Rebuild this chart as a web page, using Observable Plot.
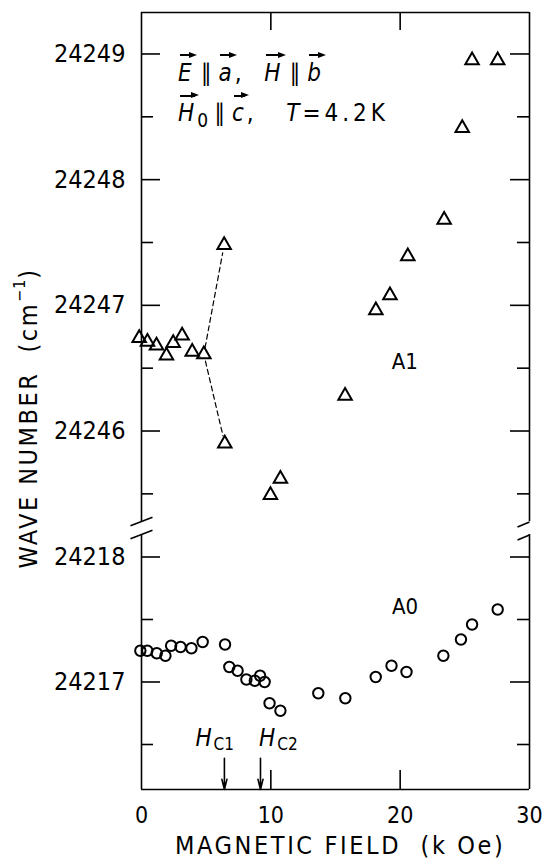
<!DOCTYPE html>
<html>
<head>
<meta charset="utf-8">
<script src="https://cdn.jsdelivr.net/npm/d3@7"></script>
<script src="https://cdn.jsdelivr.net/npm/@observablehq/plot@0.6"></script>
<style>
  body { margin: 0; background: #fff; }
  #wrap { position: relative; width: 547px; height: 860px; font-family: "DejaVu Sans Condensed", "DejaVu Sans", sans-serif; color: #000; overflow: hidden; }
  #chart { position: absolute; left: 0; top: 0; }
  .ann { position: absolute; white-space: pre; font-size: 24px; line-height: 1; letter-spacing: 3px; }
  .v { position: relative; display: inline-block; font-style: italic; line-height: 1; }
  .v::before { content: ""; position: absolute; left: 2px; right: 2px; top: -6.5px; border-top: 2px solid #000; }
  .v::after { content: ""; position: absolute; right: -2px; top: -9px; width: 0; height: 0; border-left: 8px solid #000; border-top: 3.5px solid transparent; border-bottom: 3.5px solid transparent; }
  .par { display: inline-block; font-size: 24px; margin: 0 7px 0 6px; letter-spacing: 0; }
  .sub0 { font-size: 19px; position: relative; top: 6px; letter-spacing: 0; }
  #ytitle { position: absolute; left: 27.5px; top: 417.5px; transform: translate(-50%, -50%) rotate(-90deg); white-space: pre; font-size: 25px; letter-spacing: 2.5px; line-height: 1; }
  #ytitle sup { font-size: 16px; letter-spacing: 1px; position: relative; top: -3px; }
  #xtitle { position: absolute; left: 175px; top: 833px; white-space: pre; font-size: 25px; letter-spacing: 2.6px; line-height: 1; }
</style>
</head>
<body>
<div id="wrap">
  <div id="chart"></div>
  <div class="ann" style="left:178px; top:60.7px;"><span class="v">E</span><span class="par">∥</span><span class="v">a</span>,  <span class="v">H</span><span class="par">∥</span><span class="v">b</span></div>
  <div class="ann" style="left:178px; top:101.4px;"><span class="v">H</span><span class="sub0">0</span><span class="par">∥</span><span class="v">c</span>,   <i>T</i><span style="letter-spacing:4px">=4.2K</span></div>
  <div id="ytitle">WAVE NUMBER  (cm<sup>−1</sup>)</div>
  <div id="xtitle">MAGNETIC FIELD  (k Oe)</div>
</div>
<script>
// ---- Data ----
// A1 line (triangles)
const a1Field = [-0.18, 0.46, 1.16, 1.93, 2.45, 3.14, 3.92, 4.82, 6.39, 6.44, 9.97, 10.74, 15.74, 18.12, 19.21, 20.59, 23.40, 24.80, 25.56, 27.54];
const a1Wave  = [24246.74, 24246.71, 24246.68, 24246.60, 24246.70, 24246.76, 24246.63, 24246.61, 24247.48, 24245.90, 24245.49, 24245.62, 24246.28, 24246.96, 24247.08, 24247.39, 24247.68, 24248.41, 24248.95, 24248.95];
// dashed connections (index pairs into A1)
const a1DashFrom = [7, 7];
const a1DashTo   = [8, 9];
// A0 line (circles)
const a0Field = [-0.09, 0.45, 1.18, 1.85, 2.29, 3.02, 3.86, 4.73, 6.46, 6.79, 7.43, 8.11, 8.76, 9.17, 9.52, 9.90, 10.74, 13.67, 15.76, 18.11, 19.33, 20.49, 23.34, 24.70, 25.56, 27.54];
const a0Wave  = [24217.25, 24217.25, 24217.23, 24217.21, 24217.29, 24217.28, 24217.27, 24217.32, 24217.30, 24217.12, 24217.09, 24217.02, 24217.01, 24217.05, 24217.00, 24216.83, 24216.77, 24216.91, 24216.87, 24217.04, 24217.13, 24217.08, 24217.21, 24217.34, 24217.46, 24217.58];
// series labels
const seriesNames = ["A1", "A0"];
const seriesLabelField = [20.36, 20.37];
const seriesLabelWave = [24246.55, 24217.60];
// critical fields
const hcNames = ["C1", "C2"];
const hcField = [6.41, 9.20];
const hcLabelField = [4.80, 9.72];
const hcLabelWave = 24216.553;
const hcArrowTop = 24216.39;
// axes
const xTickLabels = [0, 10, 20, 30];
const xInnerTicks = [10, 20];
const yMajorTicks = [24217, 24218, 24246, 24247, 24248, 24249];
const yLabelTicks = [24217, 24218, 24246, 24247, 24248, 24249];
const yMinorTicks = [24216.5, 24217.5, 24245.5, 24246.5, 24247.5, 24248.5];
// broken y axis: lower and upper segments
const yLowMin = 24216.14, yLowMax = 24218.18, yUpMin = 24245.28, yUpMax = 24249.33;
const xMin = 0, xMax = 30;

// ---- Scales shared with the plot ----
const W = 547, H = 860;
const mL = 141, mR = 18, mT = 12, mB = 71;
const yDomain = [yLowMin, yLowMax, yUpMin, yUpMax];
const yRange = [H - mB, 534, 521, mT];
const xs = d3.scaleLinear([xMin, xMax], [mL, W - mR]);
const ys = d3.scaleLinear(yDomain, yRange);
const kx = px => xs.invert(xs(0) + px) - xs.invert(xs(0)); // px -> kOe length
const yAt = (v, dpx) => ys.invert(ys(v) + dpx);             // offset a value by pixels

const a1 = a1Field.map((f, i) => ({f, w: a1Wave[i]}));
const a0 = a0Field.map((f, i) => ({f, w: a0Wave[i]}));
const dashes = a1DashFrom.map((s, i) => ({x1: a1Field[s], y1: a1Wave[s], x2: a1Field[a1DashTo[i]], y2: a1Wave[a1DashTo[i]]}));
const hc = hcNames.map((n, i) => ({n, x: hcField[i], lx: hcLabelField[i]}));
const labels = seriesNames.map((n, i) => ({n, x: seriesLabelField[i], y: seriesLabelWave[i]}));

// break marks
const slashes = [];
for (const v of [yUpMin, yLowMax]) {
  slashes.push({x1: xMin - kx(11), y1: yAt(v, 4.2), x2: xMin + kx(11), y2: yAt(v, -4.2)});
  slashes.push({x1: xMax - kx(12), y1: yAt(v, 5.5), x2: xMax, y2: yAt(v, 0.5)});
}

const sw = 1.6;
const chart = Plot.plot({
  width: W, height: H,
  marginLeft: mL, marginRight: mR, marginTop: mT, marginBottom: mB,
  style: {fontFamily: "'DejaVu Sans Condensed', 'DejaVu Sans', sans-serif", background: "white", color: "black"},
  x: {domain: [xMin, xMax], axis: null},
  y: {type: "linear", domain: yDomain, range: yRange, axis: null},
  marks: [
    // frame: top & bottom
    Plot.ruleY([yUpMax, yLowMin], {x1: xMin, x2: xMax, stroke: "black", strokeWidth: sw}),
    // left & right axis segments
    Plot.ruleX([xMin, xMax], {y1: yUpMin, y2: yUpMax, stroke: "black", strokeWidth: sw}),
    Plot.ruleX([xMin, xMax], {y1: yLowMin, y2: yLowMax, stroke: "black", strokeWidth: sw}),
    // break marks
    Plot.link(slashes, {x1: "x1", y1: "y1", x2: "x2", y2: "y2", stroke: "black", strokeWidth: sw}),
    // y ticks (inward, both sides)
    Plot.ruleY(yMajorTicks, {x1: xMin, x2: xMin + kx(19), stroke: "black", strokeWidth: sw}),
    Plot.ruleY(yMinorTicks, {x1: xMin, x2: xMin + kx(12), stroke: "black", strokeWidth: sw}),
    Plot.ruleY(yMajorTicks, {x1: xMax - kx(19), x2: xMax, stroke: "black", strokeWidth: sw}),
    Plot.ruleY(yMinorTicks, {x1: xMax - kx(12), x2: xMax, stroke: "black", strokeWidth: sw}),
    // x ticks (inward, top & bottom)
    Plot.ruleX(xInnerTicks, {y1: yLowMin, y2: yAt(yLowMin, -19), stroke: "black", strokeWidth: sw}),
    Plot.ruleX(xInnerTicks, {y1: yUpMax, y2: yAt(yUpMax, 18), stroke: "black", strokeWidth: sw}),
    // tick labels
    Plot.text(yLabelTicks, {x: xMin, y: d => d, text: d => String(d), dx: -16, textAnchor: "end", lineAnchor: "middle", fontSize: 25}),
    Plot.text(xTickLabels, {x: d => d, y: yLowMin, text: d => String(d), dy: 26, lineAnchor: "middle", fontSize: 23}),
    // dashed connections
    Plot.arrow(dashes, {x1: "x1", y1: "y1", x2: "x2", y2: "y2", headLength: 0, insetStart: 7, insetEnd: 8, stroke: "black", strokeWidth: 1.2, strokeDasharray: "5,3.5"}),
    // data
    Plot.dot(a1, {x: "f", y: "w", symbol: "triangle", r: 5, stroke: "black", fill: "none", strokeWidth: 2}),
    Plot.dot(a0, {x: "f", y: "w", symbol: "circle", r: 5.2, stroke: "black", fill: "none", strokeWidth: 2}),
    // series labels
    Plot.text(labels, {x: "x", y: "y", text: "n", fontSize: 22, lineAnchor: "middle"}),
    // critical field arrows and labels
    Plot.arrow(hc, {x: "x", y1: hcArrowTop, y2: yLowMin, headLength: 11, headAngle: 28, stroke: "black", strokeWidth: 1.6}),
    Plot.text(hc, {x: "lx", y: hcLabelWave, text: () => "H", fontSize: 24, fontStyle: "italic", lineAnchor: "middle"}),
    Plot.text(hc, {x: "lx", y: hcLabelWave, text: "n", dx: 10, dy: 6.5, fontSize: 17, textAnchor: "start", lineAnchor: "middle"})
  ]
});
document.getElementById("chart").appendChild(chart);
</script>
</body>
</html>
